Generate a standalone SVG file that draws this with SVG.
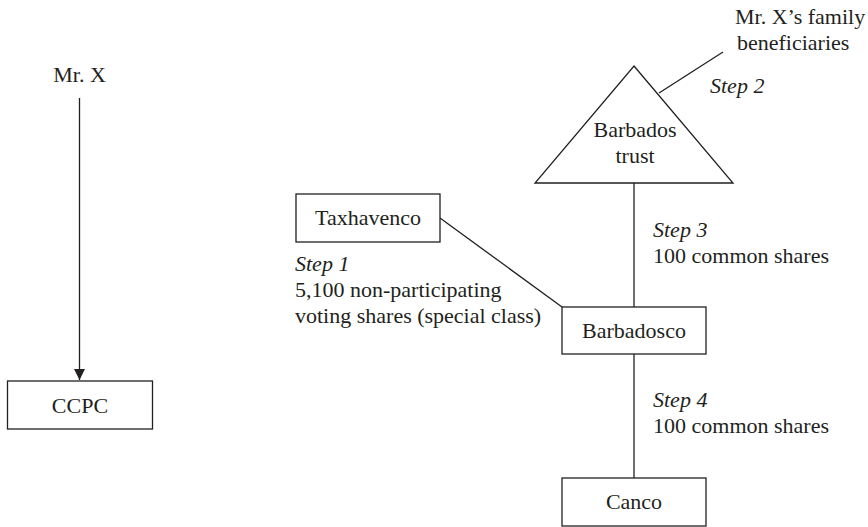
<svg xmlns="http://www.w3.org/2000/svg" width="868" height="527" viewBox="0 0 868 527">
<style>
text{font-family:"Liberation Serif","DejaVu Serif",serif;font-size:22px;fill:#231f20}
.it{font-style:italic}
.mid{text-anchor:middle}
.box{fill:#fff;stroke:#231f20;stroke-width:1.3}
.ln{fill:none;stroke:#231f20;stroke-width:1.3}
</style>
<defs>
<marker id="arr" markerWidth="12" markerHeight="20" refX="11" refY="5.5" orient="auto" markerUnits="userSpaceOnUse">
<path d="M0,0 L11,5.5 L0,11 Z" fill="#231f20"/>
</marker>
</defs>
<rect width="868" height="527" fill="#fff"/>
<g id="connectors">
<line class="ln" x1="79.5" y1="98" x2="79.5" y2="380" marker-end="url(#arr)"/>
<line class="ln" x1="659" y1="93" x2="723" y2="52"/>
<line class="ln" x1="634" y1="183" x2="634" y2="307"/>
<line class="ln" x1="634" y1="354" x2="634" y2="478"/>
<line class="ln" x1="440" y1="218" x2="562" y2="307"/>
</g>
<g id="mrx">
<text class="mid" x="79.5" y="82">Mr. X</text>
</g>
<g id="ccpc">
<rect class="box" x="7.5" y="381" width="145" height="48"/>
<text class="mid" x="80" y="413">CCPC</text>
</g>
<g id="family">
<text x="735" y="24">Mr. X’s family</text>
<text x="737" y="50">beneficiaries</text>
</g>
<g id="trust">
<polygon class="box" points="634,66 733,183 535,183"/>
<text class="mid" x="635" y="137">Barbados</text>
<text class="mid" x="635" y="163">trust</text>
</g>
<g id="taxhavenco">
<rect class="box" x="296" y="194" width="144" height="48"/>
<text class="mid" x="368" y="225">Taxhavenco</text>
</g>
<g id="barbadosco">
<rect class="box" x="562" y="307" width="144" height="47"/>
<text class="mid" x="634" y="338">Barbadosco</text>
</g>
<g id="canco">
<rect class="box" x="562" y="478" width="144" height="48"/>
<text class="mid" x="634" y="509">Canco</text>
</g>
<g id="labels">
<text class="it" x="710" y="93">Step 2</text>
<text class="it" x="653" y="237">Step 3</text>
<text x="653" y="263">100 common shares</text>
<text class="it" x="295" y="271">Step 1</text>
<text x="295" y="297">5,100 non-participating</text>
<text x="295" y="323">voting shares (special class)</text>
<text class="it" x="653" y="407">Step 4</text>
<text x="653" y="433">100 common shares</text>
</g>
</svg>
